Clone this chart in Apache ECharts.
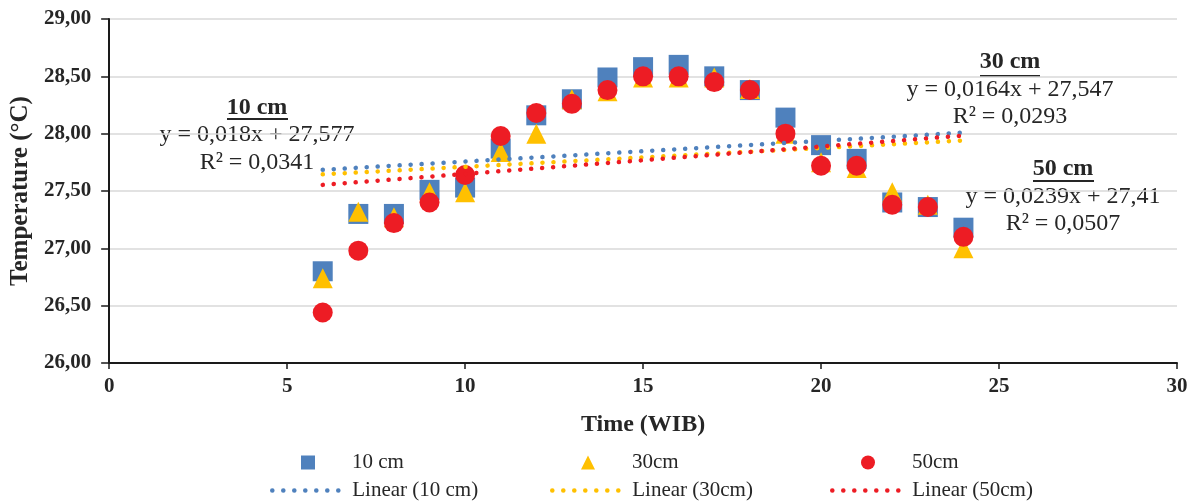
<!DOCTYPE html>
<html>
<head>
<meta charset="utf-8">
<script src="https://cdn.jsdelivr.net/npm/echarts@6/dist/echarts.min.js"></script>
<style>
html,body{margin:0;padding:0;background:#fff;}
#chart{width:1192px;height:501px;}
</style>
</head>
<body>
<div id="chart"></div>
<script>
// ---- data ----
var hours = [6, 7, 8, 9, 10, 11, 12, 13, 14, 15, 16, 17, 18, 19, 20, 21, 22, 23, 24];
var temp10 = [26.80, 27.30, 27.30, 27.51, 27.53, 27.87, 28.16, 28.30, 28.49, 28.58, 28.60, 28.50, 28.38, 28.14, 27.90, 27.78, 27.40, 27.36, 27.18];
var temp30 = [26.74, 27.32, 27.27, 27.49, 27.49, 27.84, 28.00, 28.30, 28.37, 28.49, 28.49, 28.49, 28.39, 28.00, 27.75, 27.70, 27.49, 27.38, 27.00];
var temp50 = [26.44, 26.98, 27.22, 27.40, 27.64, 27.98, 28.18, 28.26, 28.38, 28.50, 28.50, 28.45, 28.38, 28.00, 27.72, 27.72, 27.38, 27.36, 27.10];
var seriesNames = ['10 cm', '30cm', '50cm'];
var trendNames = ['Linear (10 cm)', 'Linear (30cm)', 'Linear (50cm)'];
var trendSlope = [0.018, 0.0164, 0.0239];
var trendIntercept = [27.577, 27.547, 27.41];
var trendRange = [6, 24];
var eqTitles = ['10 cm', '30 cm', '50 cm'];
var eqLines = ['y = 0,018x + 27,577', 'y = 0,0164x + 27,547', 'y = 0,0239x + 27,41'];
var r2Lines = ['R\u00b2 = 0,0341', 'R\u00b2 = 0,0293', 'R\u00b2 = 0,0507'];
var xTicks = [0, 5, 10, 15, 20, 25, 30];
var yTicks = [26, 26.5, 27, 27.5, 28, 28.5, 29];

// ---- styles ----
var markerColors = ['#4F81BD', '#FFC000', '#ED1C24'];
var trendColors = ['#4F81BD', '#FFC000', '#ED1C24'];
var symbols = ['rect', 'triangle', 'circle'];
var FONT = '"Liberation Serif", "Times New Roman", serif';
var TXT = '#262626';
var DOT = [0.1, 10.9];

function pairs(xs, ys) { return xs.map(function (x, i) { return [x, ys[i]]; }); }
var temps = [temp10, temp30, temp50];

var series = [];
for (var i = 0; i < 3; i++) {
  series.push({
    name: seriesNames[i], type: 'scatter', symbol: symbols[i], symbolSize: 20,
    itemStyle: { color: markerColors[i], opacity: 1 },
    data: pairs(hours, temps[i]), z: 2, emphasis: { disabled: true }
  });
}
for (var j = 0; j < 3; j++) {
  var tx = trendRange;
  var ty = tx.map(function (x) { return +(trendSlope[j] * x + trendIntercept[j]).toFixed(4); });
  series.push({
    name: trendNames[j], type: 'line', symbol: 'none', showSymbol: false,
    data: pairs(tx, ty), z: 3, silent: true,
    lineStyle: { color: trendColors[j], width: 4.5, type: DOT, cap: 'round' },
    itemStyle: { color: trendColors[j] }
  });
}

var legends = [];
var markerLeft = [301, 581, 861];
var lineLeft = [270, 550, 830];
for (var k = 0; k < 3; k++) {
  legends.push({
    data: [{ name: seriesNames[k], icon: symbols[k] }], left: markerLeft[k], top: 452,
    itemWidth: 14, itemHeight: 14, itemGap: 0, padding: 0, selectedMode: false,
    textStyle: { fontFamily: FONT, fontSize: 21, color: TXT, padding: [0, 0, 0, 32] }
  });
  legends.push({
    data: [{ name: trendNames[k] }], left: lineLeft[k], top: 480,
    itemWidth: 75, itemHeight: 14, itemGap: 0, padding: 0, selectedMode: false,
    itemStyle: { color: 'rgba(0,0,0,0)', borderWidth: 0, opacity: 0 },
    lineStyle: { color: trendColors[k], width: 4.5, type: DOT, cap: 'round', opacity: 1 },
    textStyle: { fontFamily: FONT, fontSize: 21, color: TXT }
  });
}

var eqPos = [[257, 108, 135, 163], [1010, 62, 90, 117], [1063, 169, 197, 224]];
var ulines = [[227, 288, 119], [980, 1040, 76], [1033, 1094, 181]];
var graphics = [];
for (var e = 0; e < 3; e++) {
  graphics.push({ type: 'text', x: eqPos[e][0], y: eqPos[e][1], silent: true,
    style: { text: eqTitles[e], textAlign: 'center', textVerticalAlign: 'middle', font: 'bold 24px ' + FONT, fill: TXT } });
  graphics.push({ type: 'text', x: eqPos[e][0], y: eqPos[e][2], silent: true,
    style: { text: eqLines[e], textAlign: 'center', textVerticalAlign: 'middle', font: '24px ' + FONT, fill: TXT } });
  graphics.push({ type: 'text', x: eqPos[e][0], y: eqPos[e][3], silent: true,
    style: { text: r2Lines[e], textAlign: 'center', textVerticalAlign: 'middle', font: '24px ' + FONT, fill: TXT } });
  graphics.push({ type: 'line', silent: true,
    shape: { x1: ulines[e][0], y1: ulines[e][2], x2: ulines[e][1], y2: ulines[e][2] },
    style: { stroke: TXT, lineWidth: 2 } });
}

var chart = echarts.init(document.getElementById('chart'), null, { renderer: 'canvas' });
chart.setOption({
  animation: false,
  backgroundColor: '#fff',
  grid: { left: 108, right: 15, top: 19, bottom: 138, containLabel: false },
  xAxis: {
    type: 'value', min: xTicks[0], max: xTicks[xTicks.length - 1], interval: 5,
    name: 'Time (WIB)', nameLocation: 'middle', nameGap: 50,
    nameTextStyle: { fontFamily: FONT, fontWeight: 'bold', fontSize: 24, color: TXT },
    axisLine: { show: true, onZero: false, lineStyle: { color: '#1a1a1a', width: 2 } },
    axisTick: { show: true, length: 6, lineStyle: { color: '#1a1a1a', width: 1.5 } },
    axisLabel: { margin: 13, fontFamily: FONT, fontWeight: 'bold', fontSize: 21, color: TXT },
    splitLine: { show: false }
  },
  yAxis: {
    type: 'value', min: yTicks[0], max: yTicks[yTicks.length - 1], interval: 0.5,
    name: 'Temperature (\u00b0C)', nameLocation: 'middle', nameGap: 70, nameRotate: 90,
    nameTextStyle: { fontFamily: FONT, fontWeight: 'bold', fontSize: 25, color: TXT },
    axisLine: { show: true, onZero: false, lineStyle: { color: '#1a1a1a', width: 2 } },
    axisTick: { show: true, length: 8, lineStyle: { color: '#1a1a1a', width: 1.5 } },
    axisLabel: { margin: 18, fontFamily: FONT, fontWeight: 'bold', fontSize: 21, color: TXT,
      formatter: function (v) { return v.toFixed(2).replace('.', ','); } },
    splitLine: { show: true, lineStyle: { color: '#d9d9d9', width: 1.5 } }
  },
  legend: legends,
  series: series,
  graphic: graphics
});
</script>
</body>
</html>
